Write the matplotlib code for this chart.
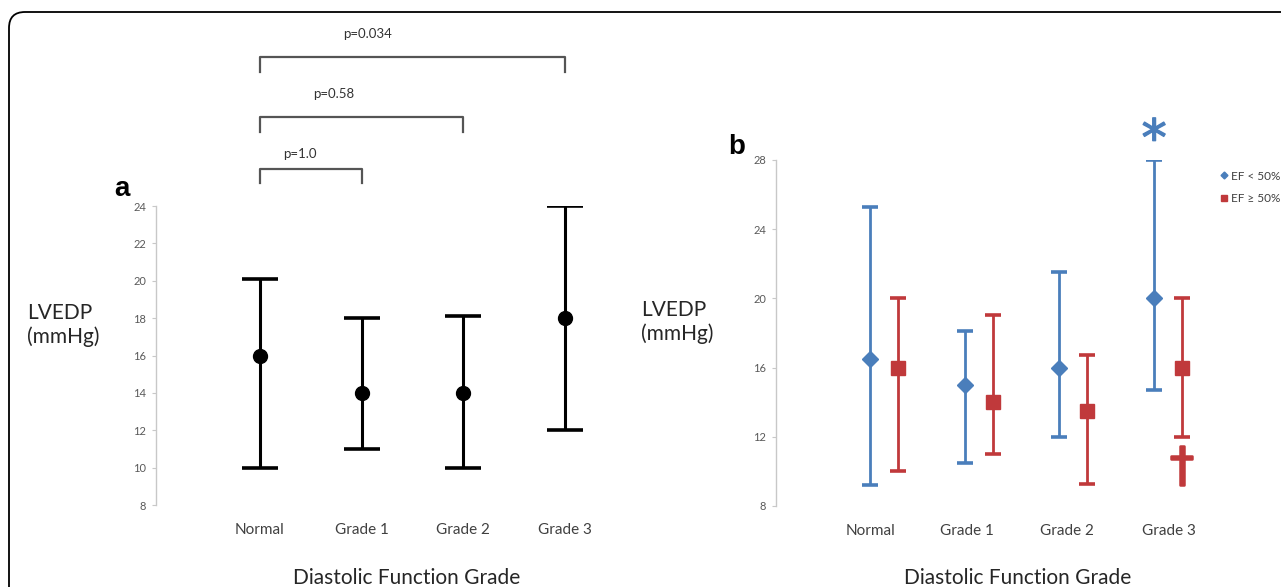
import matplotlib
matplotlib.use('Agg')
import matplotlib.pyplot as plt
import matplotlib.patheffects as pe
from matplotlib.patches import FancyBboxPatch
from matplotlib.lines import Line2D

# panel a : all patients
grades = ['Normal', 'Grade 1', 'Grade 2', 'Grade 3']
lvedp_a = [16, 14, 14, 18]
low_a = [10, 11, 10, 12]
high_a = [20.1, 18, 18.1, 24]
pvals = ['p=1.0', 'p=0.58', 'p=0.034']
pairs = [(0, 1), (0, 2), (0, 3)]

# panel b : split by ejection fraction
lvedp_low_ef = [16.5, 15, 16, 20]
low_low_ef = [9.2, 10.5, 12, 14.7]
high_low_ef = [25.3, 18.1, 21.5, 28]
lvedp_high_ef = [16, 14, 13.5, 16]
low_high_ef = [10, 11, 9.3, 12]
high_high_ef = [20, 19.05, 16.7, 20]

W, H = 1281, 587
blue = '#4a7ebb'
red = '#c0393b'
grey = '#595959'
police = 'Lato'

fig = plt.figure(figsize=(W / 100, H / 100), dpi=100)


def fx(x):
    return x / W


def fy(y):
    return 1 - y / H


# cadre arrondi
cadre = FancyBboxPatch((0.09, -0.5), 13.5, 5.75 + 0.5, boxstyle='round,pad=0,rounding_size=0.16',
                       transform=fig.dpi_scale_trans, fill=False, ec='black', lw=1.3)
fig.patches.append(cadre)


def habille(ax, ymin, ymax, step):
    ax.set_ylim(ymin, ymax)
    ax.set_yticks(range(ymin, ymax + 1, step))
    for s in ['top', 'right', 'bottom']:
        ax.spines[s].set_visible(False)
    ax.spines['left'].set_color('#c8c8c8')
    ax.spines['left'].set_linewidth(1)
    ax.tick_params(axis='y', length=3, color='#c8c8c8', labelcolor=grey, labelsize=8, pad=4)
    ax.tick_params(axis='x', length=0, labelcolor='#404040', labelsize=11, pad=13)
    for lab in ax.get_xticklabels() + ax.get_yticklabels():
        lab.set_family(police)
    ax.patch.set_alpha(0)


# ---- panel a
ax1 = fig.add_axes([fx(156), fy(505), fx(460), (505 - 206) / H])
xa = range(len(grades))
yerr_a = [[m - l for m, l in zip(lvedp_a, low_a)], [h - m for m, h in zip(lvedp_a, high_a)]]
ax1.errorbar(xa, lvedp_a, yerr=yerr_a, fmt='o', color='black', ms=10, elinewidth=2.2,
             capsize=13, capthick=2.6)
ax1.set_xlim(-1.02, 3.5)
ax1.set_xticks(list(xa))
ax1.set_xticklabels(grades)
habille(ax1, 8, 24, 2)

niveaux = [(25.23, 25.98, 26.78, 0.39), (27.96, 28.76, 29.99, 0.73), (31.17, 31.97, 33.2, 1.06)]
for (i, j), p, (bas, haut, ytxt, xtxt) in zip(pairs, pvals, niveaux):
    ax1.plot([i, i, j, j], [bas, haut, haut, bas], color='#555555', lw=1.6, clip_on=False)
    ax1.text(xtxt, ytxt, p, ha='center', va='center', fontsize=9.5, color='#333333',
             family=police)

fig.text(fx(122), fy(189), 'a', fontsize=20, weight='bold', family='Liberation Sans',
         ha='center', va='center')
fig.text(fx(27), fy(325), 'LVEDP\n(mmHg)', fontsize=15, family=police, color='#262626',
         ha='left', va='center', linespacing=1.2)
fig.text(fx(407), fy(578), 'Diastolic Function Grade', fontsize=15, family=police,
         color='#262626', ha='center', va='center')

# ---- panel b
ax2 = fig.add_axes([fx(776), fy(506), fx(424), (506 - 160) / H])
xb = [0, 0.95, 1.9, 2.85]
xr = [x + 0.28 for x in xb]
err_b = [[m - l for m, l in zip(lvedp_low_ef, low_low_ef)],
         [h - m for m, h in zip(lvedp_low_ef, high_low_ef)]]
err_r = [[m - l for m, l in zip(lvedp_high_ef, low_high_ef)],
         [h - m for m, h in zip(lvedp_high_ef, high_high_ef)]]
ax2.errorbar(xb, lvedp_low_ef, yerr=err_b, fmt='D', color=blue, ms=8, elinewidth=2,
             capsize=5.5, capthick=2.6)
ax2.errorbar(xr, lvedp_high_ef, yerr=err_r, fmt='s', color=red, ms=10, elinewidth=2,
             capsize=5.5, capthick=2.6)
ax2.set_xlim(-0.944, 3.31)
ax2.set_xticks([0, 0.97, 1.97, 3.0])
ax2.set_xticklabels(grades)
habille(ax2, 8, 28, 4)

ax2.text(xb[3], 29.1, '*', color=blue, fontsize=36, ha='center', va='center', family='DejaVu Sans',
         path_effects=[pe.withStroke(linewidth=1, foreground=blue)])
ax2.text(xr[3], 10.2, '†', color=red, fontsize=34, ha='center', va='center',
         family='DejaVu Sans', path_effects=[pe.withStroke(linewidth=1.8, foreground=red)])

poignees = [Line2D([], [], ls='none', marker='D', color=blue, ms=3.5),
            Line2D([], [], ls='none', marker='s', color=red, ms=5)]
fig.legend(poignees, ['EF < 50%', 'EF ≥ 50%'], loc='upper left',
           bbox_to_anchor=(fx(1206), fy(160)), frameon=False, prop={'family': police, 'size': 8.5},
           handletextpad=0.05, handlelength=1.2, labelspacing=1.0, labelcolor='#404040')

fig.text(fx(737), fy(147), 'b', fontsize=20, weight='bold', family='Liberation Sans',
         ha='center', va='center')
fig.text(fx(641), fy(322), 'LVEDP\n(mmHg)', fontsize=15, family=police, color='#262626',
         ha='left', va='center', linespacing=1.2)
fig.text(fx(1018), fy(578), 'Diastolic Function Grade', fontsize=15, family=police,
         color='#262626', ha='center', va='center')

fig.savefig('out.png', dpi=100, facecolor='white')
